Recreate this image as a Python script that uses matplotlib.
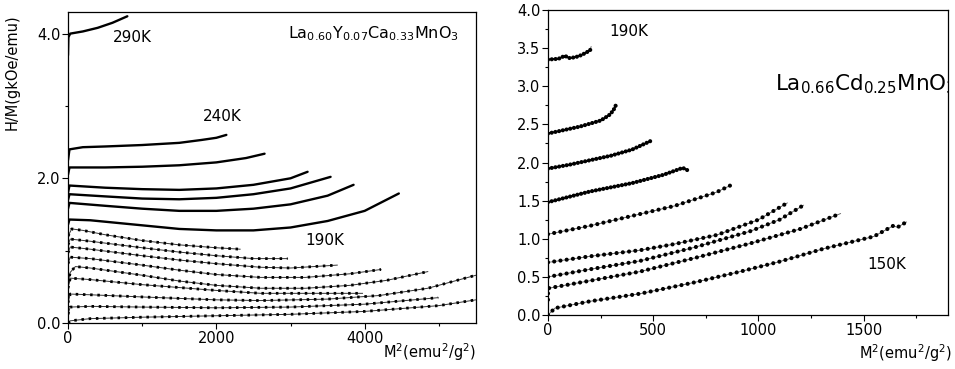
import matplotlib.pyplot as plt
from matplotlib.ticker import MultipleLocator

plt.rcParams['font.family'] = ['DejaVu Sans']
plt.rcParams['mathtext.default'] = 'regular'

# ---- left panel: La0.60Y0.07Ca0.33MnO3, H/M vs M^2 ----
# dense (solid) isotherms
t290_m2 = [0, 5, 30, 200, 400, 600, 800]
t290_hm = [3.70, 3.95, 4.00, 4.03, 4.08, 4.15, 4.24]
t240_m2 = [0, 20, 200, 500, 1000, 1500, 1800, 2000, 2135]
t240_hm = [2.25, 2.40, 2.43, 2.44, 2.46, 2.49, 2.53, 2.56, 2.60]
c3_m2 = [0, 20, 500, 1000, 1500, 2000, 2400, 2650]
c3_hm = [2.05, 2.15, 2.15, 2.16, 2.18, 2.22, 2.28, 2.34]
c4_m2 = [0, 20, 500, 1000, 1500, 2000, 2500, 3000, 3230]
c4_hm = [1.80, 1.90, 1.87, 1.85, 1.84, 1.86, 1.91, 2.00, 2.09]
c5_m2 = [0, 20, 500, 1000, 1500, 2000, 2500, 3000, 3540]
c5_hm = [1.70, 1.78, 1.75, 1.72, 1.71, 1.73, 1.78, 1.86, 2.02]
c6_m2 = [0, 20, 500, 1000, 1500, 2000, 2500, 3000, 3500, 3850]
c6_hm = [1.58, 1.66, 1.62, 1.58, 1.55, 1.55, 1.58, 1.64, 1.76, 1.91]
c7_m2 = [0, 20, 300, 800, 1500, 2000, 2500, 3000, 3500, 4000, 4460]
c7_hm = [1.36, 1.43, 1.42, 1.37, 1.30, 1.28, 1.28, 1.32, 1.41, 1.55, 1.79]

# sparse (dotted) isotherms, 190K downwards
d8_m2 = [0, 50, 200, 500, 1000, 1500, 2000, 2320]
d8_hm = [1.20, 1.30, 1.28, 1.22, 1.14, 1.08, 1.04, 1.02]
d9_m2 = [0, 30, 300, 1000, 1500, 2000, 2500, 2960]
d9_hm = [1.08, 1.16, 1.13, 1.04, 0.98, 0.93, 0.89, 0.89]
d10_m2 = [0, 30, 300, 1000, 1500, 2000, 2600, 3000, 3630]
d10_hm = [0.97, 1.05, 1.02, 0.93, 0.87, 0.82, 0.77, 0.76, 0.80]
d11_m2 = [0, 30, 300, 1000, 1500, 2000, 2600, 3200, 3800, 4220]
d11_hm = [0.82, 0.91, 0.89, 0.80, 0.73, 0.67, 0.63, 0.63, 0.68, 0.74]
d12_m2 = [0, 30, 100, 300, 1000, 1500, 2000, 2600, 3200, 3800, 4300, 4850]
d12_hm = [0.55, 0.70, 0.78, 0.76, 0.66, 0.58, 0.52, 0.48, 0.48, 0.52, 0.59, 0.71]
d13_m2 = [0, 30, 300, 1000, 2000, 2600, 3400, 3970]
d13_hm = [0.48, 0.62, 0.60, 0.53, 0.45, 0.41, 0.41, 0.41]
d14_m2 = [0, 30, 300, 1000, 2000, 2600, 3500, 4200, 4850, 5500]
d14_hm = [0.28, 0.40, 0.39, 0.36, 0.32, 0.31, 0.33, 0.38, 0.48, 0.66]
d15_m2 = [0, 30, 300, 1000, 2000, 3000, 4000, 4990]
d15_hm = [0.12, 0.22, 0.23, 0.22, 0.21, 0.22, 0.26, 0.35]
d16_m2 = [0, 30, 300, 1000, 2000, 3000, 4000, 5000, 5500]
d16_hm = [0.0, 0.03, 0.06, 0.08, 0.10, 0.12, 0.16, 0.24, 0.32]

# ---- right panel: La0.66Cd0.25MnO3 ----
r1_m2 = [0, 50, 80, 100, 130, 160, 200, 205]
r1_hm = [3.35, 3.36, 3.40, 3.37, 3.38, 3.41, 3.47, 3.52]
r2_m2 = [0, 50, 100, 150, 200, 250, 290, 310, 324]
r2_hm = [2.38, 2.41, 2.44, 2.47, 2.51, 2.55, 2.62, 2.68, 2.76]
r3_m2 = [0, 100, 200, 300, 400, 486]
r3_hm = [1.92, 1.97, 2.03, 2.09, 2.17, 2.28]
r4_m2 = [0, 200, 400, 550, 640, 662]
r4_hm = [1.48, 1.62, 1.73, 1.84, 1.93, 1.90]
r5_m2 = [0, 200, 400, 600, 800, 867]
r5_hm = [1.06, 1.17, 1.30, 1.43, 1.61, 1.70]
r6_m2 = [0, 200, 438, 600, 803, 1000, 1137]
r6_hm = [0.69, 0.77, 0.85, 0.93, 1.05, 1.25, 1.47]
r7_m2 = [0, 200, 438, 700, 962, 1100, 1214]
r7_hm = [0.50, 0.60, 0.71, 0.89, 1.10, 1.25, 1.44]
r8_m2 = [0, 0, 200, 438, 700, 962, 1200, 1390]
r8_hm = [0.20, 0.35, 0.45, 0.57, 0.75, 0.94, 1.13, 1.33]
r9_m2 = [0, 33, 200, 438, 700, 914, 1100, 1310, 1548, 1640, 1660, 1703]
r9_hm = [0.0, 0.09, 0.18, 0.28, 0.43, 0.57, 0.70, 0.87, 1.03, 1.17, 1.15, 1.22]

left_solid = [(t290_m2, t290_hm), (t240_m2, t240_hm), (c3_m2, c3_hm),
              (c4_m2, c4_hm), (c5_m2, c5_hm), (c6_m2, c6_hm), (c7_m2, c7_hm)]
left_dotted = [(d8_m2, d8_hm), (d9_m2, d9_hm), (d10_m2, d10_hm), (d11_m2, d11_hm),
               (d12_m2, d12_hm), (d13_m2, d13_hm), (d14_m2, d14_hm),
               (d15_m2, d15_hm), (d16_m2, d16_hm)]
right_dense = [(r1_m2, r1_hm), (r2_m2, r2_hm), (r3_m2, r3_hm), (r4_m2, r4_hm)]
right_sparse = [(r5_m2, r5_hm), (r6_m2, r6_hm), (r7_m2, r7_hm),
                (r8_m2, r8_hm), (r9_m2, r9_hm)]

fig = plt.figure(figsize=(9.55, 3.69), dpi=100)
ax1 = fig.add_axes([0.0712, 0.1247, 0.4272, 0.843])
ax2 = fig.add_axes([0.5738, 0.1463, 0.4188, 0.8266])

# left curves
for m2, hm in left_solid:
    ax1.plot(m2, hm, color='black', lw=1.7, solid_capstyle='round')
for m2, hm in left_dotted:
    ax1.plot(m2, hm, color='0.2', lw=0.7)
    ax1.plot(m2, hm, color='black', lw=2.0, linestyle=(0, (0.9, 1.7)))

# right curves: dots joined by a thin line
for m2, hm in right_dense:
    ax2.plot(m2, hm, color='0.35', lw=0.6)
    ax2.plot(m2, hm, color='black', lw=3.0, linestyle=(0, (0.01, 0.9)),
             dash_capstyle='round')
for m2, hm in right_sparse:
    ax2.plot(m2, hm, color='0.35', lw=0.6)
    ax2.plot(m2, hm, color='black', lw=3.0, linestyle=(0, (0.01, 1.5)),
             dash_capstyle='round')

# labels inside the panels
ax1.text(865, 3.94, '290K', fontsize=11, ha='center', va='center')
ax1.text(2074, 2.85, '240K', fontsize=11, ha='center', va='center')
ax1.text(3460, 1.14, '190K', fontsize=11, ha='center', va='center')
ax1.text(2960, 3.93, 'La$_{0.60}$Y$_{0.07}$Ca$_{0.33}$MnO$_3$', fontsize=11.5,
         ha='left', va='baseline')
ax2.text(385, 3.72, '190K', fontsize=11, ha='center', va='center')
ax2.text(1610, 0.66, '150K', fontsize=11, ha='center', va='center')
ax2.text(1078, 2.95, 'La$_{0.66}$Cd$_{0.25}$MnO$_3$', fontsize=15.5,
         ha='left', va='baseline', clip_on=True)

# axes setup
ax1.set_xlim(0, 5500)
ax1.set_ylim(0, 4.3)
ax1.xaxis.set_major_locator(MultipleLocator(2000))
ax1.xaxis.set_minor_locator(MultipleLocator(1000))
ax1.yaxis.set_major_locator(MultipleLocator(2.0))
ax1.yaxis.set_minor_locator(MultipleLocator(1.0))
ax1.set_xticks([0, 2000, 4000])
ax1.set_xticklabels(['0', '2000', '4000'])
ax1.set_yticks([0, 2, 4])
ax1.set_yticklabels(['0.0', '2.0', '4.0'])

ax2.set_xlim(0, 1900)
ax2.set_ylim(0, 4.0)
ax2.xaxis.set_major_locator(MultipleLocator(500))
ax2.xaxis.set_minor_locator(MultipleLocator(250))
ax2.yaxis.set_major_locator(MultipleLocator(0.5))
ax2.yaxis.set_minor_locator(MultipleLocator(0.25))
ax2.yaxis.set_major_formatter(plt.FormatStrFormatter('%.1f'))

for ax in (ax1, ax2):
    ax.tick_params(which='major', direction='out', length=4, width=0.8,
                   labelsize=10.5, pad=1.5)
    ax.tick_params(which='minor', direction='out', length=2.5, width=0.8)
    for s in ax.spines.values():
        s.set_linewidth(0.9)

ax1.set_ylabel('H/M(gkOe/emu)', fontsize=10.5)
ax1.yaxis.set_label_coords(-0.118, 0.807)
ax1.set_xlabel('M$^2$(emu$^2$/g$^2$)', fontsize=10.5, ha='right')
ax1.xaxis.set_label_coords(1.0, -0.06)
ax2.set_xlabel('M$^2$(emu$^2$/g$^2$)', fontsize=10.5, ha='right')
ax2.xaxis.set_label_coords(1.01, -0.09)

fig.savefig('out.png', dpi=100)
